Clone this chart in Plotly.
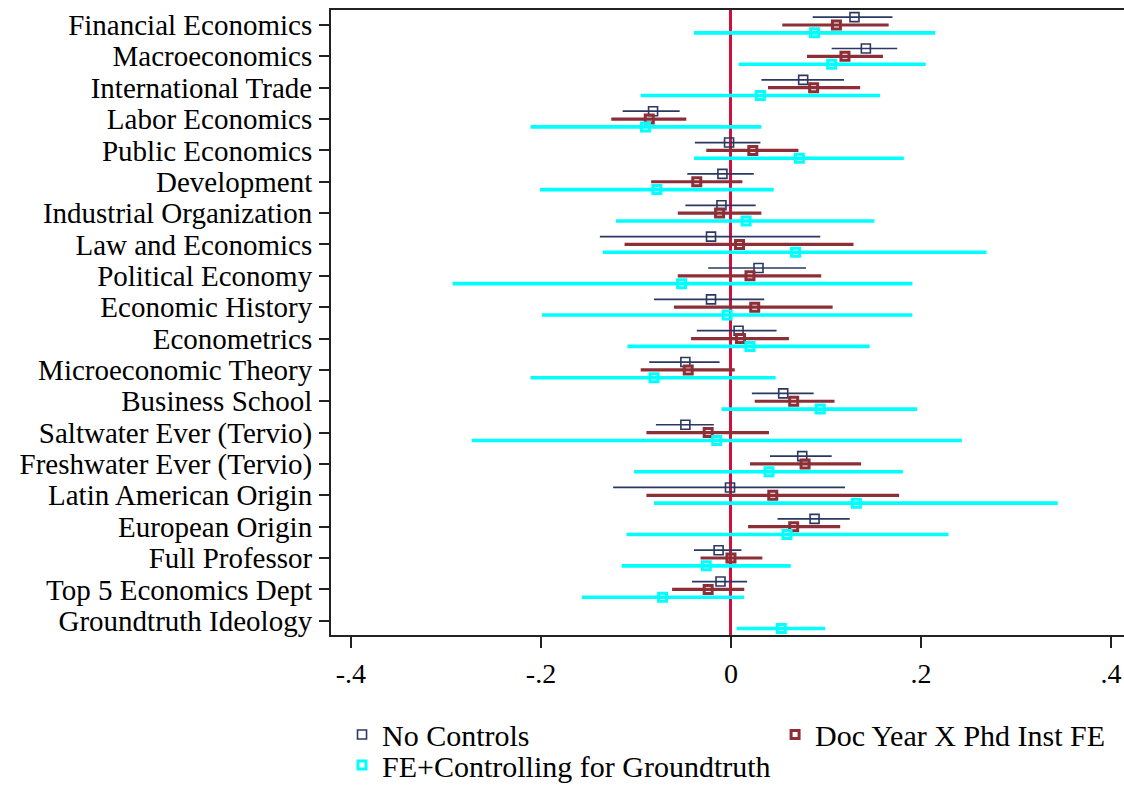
import plotly.graph_objects as go

# Coefficient estimates with 95% confidence bounds, one row per characteristic
categories = [
    "Financial Economics", "Macroeconomics", "International Trade", "Labor Economics",
    "Public Economics", "Development", "Industrial Organization", "Law and Economics",
    "Political Economy", "Economic History", "Econometrics", "Microeconomic Theory",
    "Business School", "Saltwater Ever (Tervio)", "Freshwater Ever (Tervio)",
    "Latin American Origin", "European Origin", "Full Professor",
    "Top 5 Economics Dept", "Groundtruth Ideology",
]

# No Controls
nc_coef = [0.130, 0.142, 0.076, -0.082, -0.002, -0.009, -0.010, -0.021, 0.029, -0.021,
           0.008, -0.048, 0.055, -0.048, 0.075, -0.001, 0.088, -0.013, -0.011, None]
nc_lo = [0.086, 0.106, 0.032, -0.114, -0.038, -0.046, -0.048, -0.138, -0.024, -0.081,
         -0.036, -0.086, 0.022, -0.079, 0.041, -0.124, 0.049, -0.039, -0.041, None]
nc_hi = [0.170, 0.175, 0.119, -0.054, 0.031, 0.024, 0.026, 0.094, 0.079, 0.035,
         0.048, -0.012, 0.087, -0.018, 0.106, 0.120, 0.125, 0.011, 0.017, None]

# Doc Year X Phd Inst FE
fe_coef = [0.111, 0.120, 0.087, -0.086, 0.023, -0.036, -0.012, 0.009, 0.020, 0.025,
           0.010, -0.045, 0.066, -0.024, 0.078, 0.044, 0.066, 0.000, -0.024, None]
fe_lo = [0.054, 0.080, 0.039, -0.126, -0.026, -0.084, -0.056, -0.112, -0.056, -0.060,
         -0.042, -0.095, 0.025, -0.089, 0.020, -0.089, 0.018, -0.032, -0.062, None]
fe_hi = [0.166, 0.160, 0.136, -0.047, 0.071, 0.012, 0.032, 0.129, 0.095, 0.107,
         0.061, 0.004, 0.109, 0.040, 0.137, 0.177, 0.115, 0.033, 0.014, None]

# FE + Controlling for Groundtruth
gt_coef = [0.088, 0.106, 0.031, -0.090, 0.072, -0.078, 0.016, 0.068, -0.052, -0.004,
           0.020, -0.081, 0.094, -0.015, 0.040, 0.132, 0.059, -0.026, -0.072, 0.053]
gt_lo = [-0.039, 0.008, -0.095, -0.211, -0.039, -0.201, -0.121, -0.135, -0.293, -0.199,
         -0.109, -0.211, -0.010, -0.273, -0.102, -0.081, -0.110, -0.115, -0.157, 0.006]
gt_hi = [0.215, 0.205, 0.157, 0.032, 0.182, 0.045, 0.151, 0.269, 0.191, 0.191,
         0.146, 0.047, 0.196, 0.243, 0.181, 0.344, 0.229, 0.063, 0.014, 0.099]

x_tickvals = [-0.4, -0.2, 0, 0.2, 0.4]
x_ticktext = ["-.4", "-.2", "0", ".2", ".4"]

FONT = "Liberation Serif"


def err(coef, lo, hi):
    plus = [None if c is None else h - c for c, h in zip(coef, hi)]
    minus = [None if c is None else c - l for c, l in zip(coef, lo)]
    return plus, minus


series = [
    dict(name="No Controls", coef=nc_coef, lo=nc_lo, hi=nc_hi, offset=-0.25,
         color="#2b3862", lw=1.7, size=9, mlw=1.6, legend="legend"),
    dict(name="Doc Year X Phd Inst FE", coef=fe_coef, lo=fe_lo, hi=fe_hi, offset=0.0,
         color="#8c2f36", lw=3.2, size=8, mlw=3, legend="legend2"),
    dict(name="FE+Controlling for Groundtruth", coef=gt_coef, lo=gt_lo, hi=gt_hi, offset=0.25,
         color="#00ffff", lw=3.6, size=8, mlw=3, legend="legend3"),
]

fig = go.Figure()
for s in series:
    plus, minus = err(s["coef"], s["lo"], s["hi"])
    ypos = [i + s["offset"] for i in range(len(categories))]
    fig.add_trace(go.Scatter(
        x=s["coef"], y=ypos, mode="markers", name=s["name"], legend=s["legend"],
        marker=dict(symbol="square-open", size=s["size"], color=s["color"],
                    line=dict(color=s["color"], width=s["mlw"])),
        error_x=dict(type="data", symmetric=False, array=plus, arrayminus=minus,
                     color=s["color"], thickness=s["lw"], width=0),
        cliponaxis=False,
    ))


def legend_box(x, y):
    return dict(x=x, y=y, xanchor="left", yanchor="top", orientation="v",
                font=dict(family=FONT, size=30, color="black"),
                bgcolor="rgba(0,0,0,0)", borderwidth=0)


fig.update_layout(
    width=1124, height=791,
    margin=dict(l=331, r=0, t=10, b=155),
    paper_bgcolor="white", plot_bgcolor="white",
    font=dict(family=FONT, size=28, color="black"),
    showlegend=True,
    legend=legend_box(0.0139, -0.1158),
    legend2=legend_box(0.5600, -0.1158),
    legend3=legend_box(0.0139, -0.1669),
    xaxis=dict(
        range=[-0.421, 0.4137], tickvals=x_tickvals, ticktext=x_ticktext,
        showgrid=False, zeroline=True, zerolinecolor="#d0103c", zerolinewidth=2.6,
        showline=True, linecolor="#222222", linewidth=2.2, mirror=True,
        ticks="outside", ticklen=11, tickwidth=1.6, tickcolor="#222222",
        ticklabelstandoff=1,
        tickfont=dict(family=FONT, size=28, color="black"),
    ),
    yaxis=dict(
        range=[len(categories) - 1 + 0.455, -0.478],
        tickvals=list(range(len(categories))), ticktext=categories,
        showgrid=False, zeroline=False,
        showline=True, linecolor="#222222", linewidth=2,
        ticks="outside", ticklen=10, tickwidth=1.6, tickcolor="#222222",
        ticklabelstandoff=1,
        tickfont=dict(family=FONT, size=29, color="black"),
    ),
)

fig.write_html("out.html")
